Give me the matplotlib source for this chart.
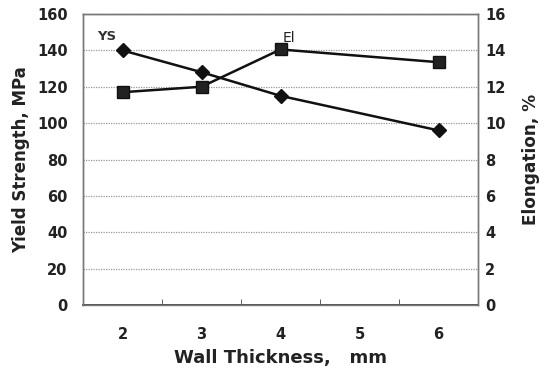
import matplotlib
matplotlib.use("Agg")
import matplotlib.pyplot as plt

thickness = [2, 3, 4, 6]
ys_values = [140, 128, 115, 96]       # MPa, left axis
el_values = [11.7, 12.0, 14.05, 13.35]  # %, right axis

x_ticks = [2, 3, 4, 5, 6]
y_left_ticks = [0, 20, 40, 60, 80, 100, 120, 140, 160]
y_right_ticks = [0, 2, 4, 6, 8, 10, 12, 14, 16]

plt.rcParams['font.family'] = ['DejaVu Sans']

fig = plt.figure(figsize=(5.47, 3.72), dpi=100)
ax = fig.add_axes([83/547, 1-305/372, (478-83)/547, (305-14)/372])
ax2 = ax.twinx()

ax.set_xlim(1.5, 6.5)
ax.set_ylim(0, 160)
ax2.set_ylim(0, 16)

ax.set_yticks(y_left_ticks)
ax2.set_yticks(y_right_ticks)
ax.set_xticks(x_ticks)
ax.set_xticks([2.5, 3.5, 4.5, 5.5], minor=True)

ax.grid(axis='y', color='#999999', linestyle=(0, (1, 1)), linewidth=0.9)
ax.set_axisbelow(True)

ax.plot(thickness, ys_values, color='#111111', linewidth=1.8, marker='D',
        markersize=7, markerfacecolor='#111111', zorder=3)
ax2.plot(thickness, el_values, color='#111111', linewidth=1.8, marker='s',
         markersize=8, markerfacecolor='#222222', markeredgecolor='#111111', zorder=3)

for a in (ax, ax2):
    for s in a.spines.values():
        s.set_color('#777777')
        s.set_linewidth(1.0)
ax.spines['bottom'].set_color('#444444')
ax.spines['bottom'].set_linewidth(1.3)

ax.tick_params(axis='x', which='major', length=0, pad=16, labelsize=10.5)
ax.tick_params(axis='x', which='minor', direction='in', length=4, color='#444444')
ax.tick_params(axis='y', length=0, pad=11, labelsize=10.5)
ax2.tick_params(axis='y', length=0, pad=5, labelsize=10.5)
for lab in ax.get_xticklabels() + ax.get_yticklabels() + ax2.get_yticklabels():
    lab.set_fontweight('bold')
    lab.set_color('#222222')

ax.set_ylabel('Yield Strength, MPa', fontsize=12, fontweight='bold', color='#222222')
ax2.set_ylabel('Elongation, %', fontsize=12.2, fontweight='bold', color='#222222')
ax.set_xlabel('Wall Thickness,   mm', fontsize=13, fontweight='bold', color='#222222')
ax.yaxis.set_label_coords(-0.134, 0.5)
ax2.yaxis.set_label_coords(1.111, 0.5)
ax.xaxis.set_label_coords(0.5, -0.15)

ax.text(1.68, 147.9, 'YS', fontsize=9.5, fontweight='bold', color='#333333', va='center', ha='left')
ax2.text(4.03, 14.68, 'El', fontsize=10, color='#222222', va='center', ha='left')

fig.savefig('out.png', dpi=100)
